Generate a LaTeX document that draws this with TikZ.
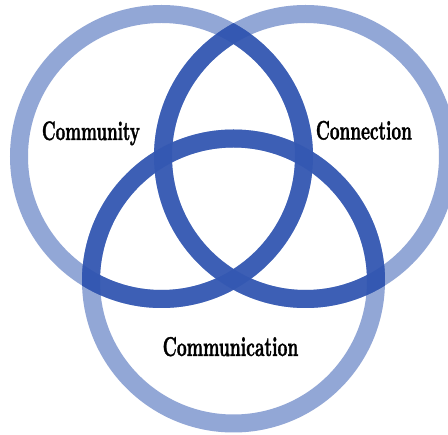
\documentclass[tikz,border=0pt]{standalone}
\usepackage{graphicx}
\usepackage{fontspec}
\newfontfamily\labelfont[FakeBold=1.6]{Latin Modern Roman}
\definecolor{ringlight}{RGB}{146,167,214}
\definecolor{ringdark}{RGB}{52,88,178}
\begin{document}
\begin{tikzpicture}[x=1pt,y=-1pt,
  lightring/.style={draw=ringlight, line width=18pt},
  darkring/.style={draw=ringdark, line width=18pt, opacity=0.9},
  lbl/.style={inner sep=0pt, anchor=base, font=\labelfont\bfseries, text=black}]
\useasboundingbox (0,0) rectangle (448,435);
\fill[white] (0,0) rectangle (448,435);
\coordinate (L) at (161.5,156.5);
\coordinate (R) at (305.5,156.5);
\coordinate (B) at (233.5,281);
% light rings
\path[lightring] (L) circle[radius=142.5pt];
\path[lightring] (R) circle[radius=142.5pt];
\path[lightring] (B) circle[radius=142.5pt];
% dark parts: each ring inside the other circles
\begin{scope}
  \clip (R) circle[radius=151.5pt] (B) circle[radius=151.5pt];
  \path[darkring] (L) circle[radius=142.5pt];
\end{scope}
\begin{scope}
  \clip (L) circle[radius=151.5pt] (B) circle[radius=151.5pt];
  \path[darkring] (R) circle[radius=142.5pt];
\end{scope}
\begin{scope}
  \clip (L) circle[radius=151.5pt] (R) circle[radius=151.5pt];
  \path[darkring] (B) circle[radius=142.5pt];
\end{scope}
% labels
\node[lbl] (community) at (90.9,140) {\resizebox{98pt}{18.6pt}{Community}};
\node[lbl] (connection) at (363.9,139.5) {\resizebox{96pt}{18.6pt}{Connection}};
\node[lbl] (communication) at (230.5,356) {\resizebox{135.6pt}{19pt}{Communication}};
\end{tikzpicture}
\end{document}
